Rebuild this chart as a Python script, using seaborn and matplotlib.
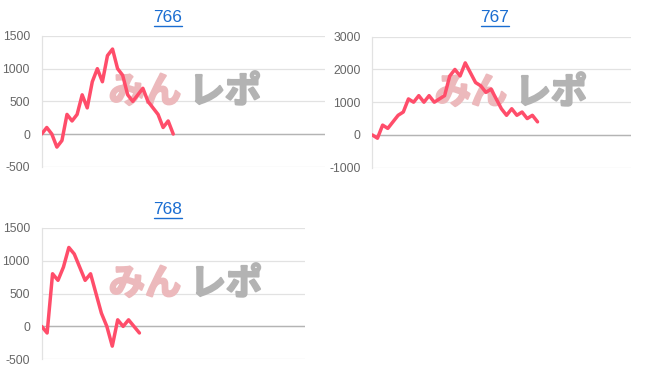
import numpy as np
import pandas as pd
import matplotlib
matplotlib.use("Agg")
import matplotlib.pyplot as plt
from matplotlib.lines import Line2D
import matplotlib.patheffects as pe
import seaborn as sns

# ---- data ----
titles = ["766", "767", "768"]
vals_766 = [0, 100, 0, -200, -100, 300, 200, 300, 600, 400, 800, 1000, 800, 1200, 1300,
            1000, 900, 600, 500, 600, 700, 500, 400, 300, 100, 200, 0]
vals_767 = [0, -100, 300, 200, 400, 600, 700, 1100, 1000, 1200, 1000, 1200, 1000, 1100,
            1200, 1800, 2000, 1800, 2200, 1900, 1600, 1500, 1300, 1400, 1100, 800, 600,
            800, 600, 700, 500, 600, 400]
vals_768 = [0, -100, 800, 700, 900, 1200, 1100, 900, 700, 800, 500, 200, 0, -300, 100,
            0, 100, 0, -100]
yticks_small = [-500, 0, 500, 1000, 1500]
yticks_large = [-1000, 0, 1000, 2000, 3000]
watermark_a = "みん"
watermark_b = "レポ"

sns.set_theme(style="white")
plt.rcParams["font.family"] = ["Liberation Sans", "Noto Sans CJK JP", "DejaVu Sans"]

W, H = 652, 382
fig = plt.figure(figsize=(W / 100, H / 100), dpi=100)
fig.patch.set_facecolor("white")

def px_axes(x0, x1, ytop, ybot):
    return fig.add_axes([x0 / W, 1 - ybot / H, (x1 - x0) / W, (ybot - ytop) / H])

specs = [
    # values, ticks, axes box (px), xmax, title center (px), watermark centers (px)
    (vals_766, yticks_small, (41.7, 325, 36, 166.7), 56.0, (168, 17), (145, 92), (225, 92)),
    (vals_767, yticks_large, (372.3, 631, 36.7, 167.7), 50.1, (495, 17), (471, 93), (551, 93)),
    (vals_768, yticks_small, (41.7, 305, 227.7, 359.3), 48.5, (168, 209), (145, 284), (226, 284)),
]

line_color = "#ff4d6a"
grid_color = "#e2e2e2"
zero_color = "#b4b4b4"
label_color = "#666666"
title_color = "#1a6dd1"
wm_pink = "#ecb9bc"
wm_gray = "#b3b3b3"

title_texts = []
for (vals, ticks, box, xmax, tpos, wa, wb), title in zip(specs, titles):
    ax = px_axes(*box)
    df = pd.DataFrame({"x": np.arange(len(vals)), "y": vals})
    sns.lineplot(data=df, x="x", y="y", ax=ax, color=line_color, linewidth=2.5, zorder=5)
    ax.set_xlim(0, xmax)
    ax.set_ylim(ticks[0], ticks[-1])
    ax.set_yticks(ticks)
    ax.set_yticklabels([str(t) for t in ticks])
    ax.set_xticks([])
    ax.set_xlabel("")
    ax.set_ylabel("")
    ax.grid(axis="y", color=grid_color, linewidth=0.9)
    ax.axhline(0, color=zero_color, linewidth=1.0, zorder=2)
    for s in ["top", "right", "bottom"]:
        ax.spines[s].set_visible(False)
    ax.spines["left"].set_color(grid_color)
    ax.spines["left"].set_linewidth(0.9)
    ax.tick_params(axis="y", length=8, width=0.9, color=grid_color, pad=0.5,
                   labelcolor=label_color, labelsize=8.7)
    for t, tk in zip(ticks, ax.yaxis.get_major_ticks()):
        if t == 0:
            tk.tick1line.set_color(zero_color)
    ax.set_facecolor("none")
    # watermark
    ax.text(wa[0] / W, 1 - wa[1] / H, watermark_a, transform=fig.transFigure,
            ha="center", va="center", fontsize=26, fontweight="bold",
            family=["Noto Sans CJK JP"], color=wm_pink, zorder=1,
            path_effects=[pe.withStroke(linewidth=1.6, foreground=wm_pink)])
    ax.text(wb[0] / W, 1 - wb[1] / H, watermark_b, transform=fig.transFigure,
            ha="center", va="center", fontsize=26, fontweight="bold",
            family=["Noto Sans CJK JP"], color=wm_gray, zorder=1,
            path_effects=[pe.withStroke(linewidth=1.6, foreground=wm_gray)])
    tt = fig.text(tpos[0] / W, 1 - tpos[1] / H, title, ha="center", va="center",
                  fontsize=12.5, color=title_color)
    title_texts.append(tt)

fig.canvas.draw()
renderer = fig.canvas.get_renderer()
for tt in title_texts:
    bb = tt.get_window_extent(renderer)
    y = bb.y0 - 1.5
    fig.add_artist(Line2D([bb.x0 / W, bb.x1 / W], [y / H, y / H],
                          transform=fig.transFigure, color=title_color, linewidth=1.0))

fig.savefig("out.png", dpi=100, facecolor="white")
